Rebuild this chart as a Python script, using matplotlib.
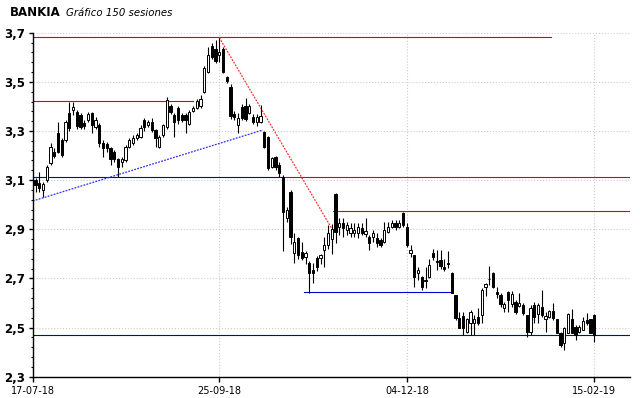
import numpy as np
import matplotlib
matplotlib.use("Agg")
import matplotlib.pyplot as plt
from matplotlib.ticker import AutoMinorLocator

# daily sessions (150)
opens = [3.100, 3.087, 3.060, 3.100, 3.168, 3.216, 3.290, 3.263, 3.263, 3.372,
         3.385, 3.378, 3.365, 3.331, 3.345, 3.372, 3.317, 3.324, 3.250, 3.248,
         3.229, 3.216, 3.186, 3.175, 3.182, 3.236, 3.252, 3.270, 3.277, 3.345,
         3.324, 3.338, 3.304, 3.236, 3.283, 3.317, 3.401, 3.365, 3.392, 3.365,
         3.365, 3.330, 3.383, 3.395, 3.400, 3.460, 3.540, 3.645, 3.635, 3.610,
         3.632, 3.520, 3.480, 3.370, 3.324, 3.399, 3.400, 3.374, 3.358, 3.338,
         3.338, 3.297, 3.277, 3.155, 3.196, 3.160, 3.114, 2.945, 3.053, 2.802,
         2.863, 2.809, 2.788, 2.761, 2.734, 2.782, 2.782, 2.816, 2.836, 2.860,
         3.044, 2.911, 2.924, 2.897, 2.883, 2.883, 2.883, 2.904, 2.881, 2.870,
         2.870, 2.863, 2.856, 2.850, 2.890, 2.911, 2.924, 2.911, 2.965, 2.911,
         2.803, 2.795, 2.721, 2.707, 2.694, 2.707, 2.805, 2.772, 2.775, 2.745,
         2.760, 2.721, 2.632, 2.537, 2.547, 2.483, 2.517, 2.517, 2.541, 2.551,
         2.666, 2.699, 2.723, 2.646, 2.632, 2.578, 2.646, 2.596, 2.605, 2.588,
         2.592, 2.551, 2.483, 2.592, 2.555, 2.585, 2.534, 2.544, 2.568, 2.533,
         2.479, 2.436, 2.476, 2.533, 2.501, 2.483, 2.490, 2.531, 2.533, 2.551]
highs = [3.110, 3.134, 3.093, 3.160, 3.250, 3.230, 3.338, 3.270, 3.345, 3.419,
         3.419, 3.385, 3.372, 3.345, 3.378, 3.378, 3.358, 3.331, 3.263, 3.256,
         3.236, 3.223, 3.190, 3.195, 3.243, 3.270, 3.283, 3.290, 3.324, 3.351,
         3.345, 3.351, 3.310, 3.283, 3.330, 3.439, 3.410, 3.372, 3.400, 3.372,
         3.372, 3.385, 3.400, 3.430, 3.445, 3.565, 3.640, 3.660, 3.670, 3.680,
         3.640, 3.525, 3.490, 3.380, 3.372, 3.410, 3.433, 3.410, 3.370, 3.370,
         3.405, 3.300, 3.280, 3.195, 3.200, 3.175, 3.120, 2.990, 3.060, 2.884,
         2.870, 2.850, 2.810, 2.770, 2.761, 2.790, 2.800, 2.870, 2.917, 2.920,
         3.046, 2.944, 2.944, 2.930, 2.924, 2.924, 2.924, 2.924, 2.944, 2.877,
         2.897, 2.883, 2.863, 2.931, 2.931, 2.938, 2.938, 2.938, 2.972, 2.924,
         2.836, 2.795, 2.748, 2.710, 2.748, 2.780, 2.820, 2.816, 2.816, 2.780,
         2.810, 2.725, 2.632, 2.565, 2.565, 2.537, 2.572, 2.551, 2.578, 2.660,
         2.680, 2.750, 2.725, 2.666, 2.639, 2.605, 2.650, 2.650, 2.612, 2.640,
         2.600, 2.552, 2.590, 2.605, 2.600, 2.653, 2.565, 2.570, 2.599, 2.535,
         2.483, 2.504, 2.558, 2.574, 2.510, 2.510, 2.544, 2.560, 2.535, 2.557]
lows = [3.050, 3.053, 3.030, 3.093, 3.160, 3.190, 3.209, 3.195, 3.256, 3.300,
        3.365, 3.310, 3.310, 3.310, 3.338, 3.290, 3.310, 3.236, 3.195, 3.216,
        3.161, 3.175, 3.114, 3.155, 3.175, 3.229, 3.243, 3.263, 3.270, 3.300,
        3.317, 3.297, 3.236, 3.229, 3.277, 3.310, 3.370, 3.277, 3.330, 3.338,
        3.290, 3.324, 3.378, 3.390, 3.395, 3.455, 3.535, 3.595, 3.575, 3.580,
        3.535, 3.495, 3.350, 3.345, 3.290, 3.345, 3.340, 3.370, 3.330, 3.320,
        3.331, 3.230, 3.141, 3.148, 3.140, 3.114, 2.810, 2.930, 2.840, 2.761,
        2.780, 2.775, 2.760, 2.639, 2.680, 2.730, 2.760, 2.748, 2.820, 2.800,
        2.843, 2.877, 2.870, 2.877, 2.870, 2.870, 2.863, 2.877, 2.870, 2.816,
        2.850, 2.829, 2.829, 2.843, 2.883, 2.904, 2.897, 2.904, 2.910, 2.829,
        2.788, 2.666, 2.693, 2.653, 2.660, 2.700, 2.775, 2.734, 2.740, 2.730,
        2.741, 2.639, 2.531, 2.500, 2.470, 2.476, 2.470, 2.470, 2.510, 2.517,
        2.630, 2.673, 2.660, 2.620, 2.585, 2.565, 2.565, 2.585, 2.557, 2.585,
        2.550, 2.463, 2.470, 2.517, 2.517, 2.544, 2.483, 2.540, 2.530, 2.476,
        2.420, 2.409, 2.476, 2.476, 2.449, 2.479, 2.490, 2.510, 2.476, 2.443]
closes = [3.080, 3.066, 3.083, 3.155, 3.236, 3.200, 3.216, 3.202, 3.338, 3.311,
          3.399, 3.320, 3.317, 3.320, 3.368, 3.324, 3.345, 3.250, 3.229, 3.229,
          3.184, 3.188, 3.155, 3.188, 3.236, 3.263, 3.270, 3.283, 3.311, 3.317,
          3.338, 3.304, 3.270, 3.277, 3.324, 3.426, 3.378, 3.338, 3.345, 3.345,
          3.345, 3.378, 3.392, 3.423, 3.430, 3.555, 3.610, 3.602, 3.585, 3.623,
          3.541, 3.505, 3.360, 3.355, 3.351, 3.351, 3.350, 3.401, 3.338, 3.358,
          3.360, 3.236, 3.148, 3.189, 3.155, 3.128, 2.972, 2.979, 2.870, 2.850,
          2.795, 2.782, 2.803, 2.721, 2.721, 2.748, 2.796, 2.836, 2.883, 2.900,
          2.890, 2.924, 2.904, 2.917, 2.904, 2.897, 2.911, 2.883, 2.894, 2.843,
          2.883, 2.843, 2.836, 2.897, 2.911, 2.924, 2.911, 2.924, 2.917, 2.836,
          2.816, 2.707, 2.734, 2.666, 2.688, 2.754, 2.786, 2.768, 2.750, 2.737,
          2.758, 2.640, 2.537, 2.500, 2.497, 2.533, 2.565, 2.535, 2.517, 2.653,
          2.676, 2.696, 2.666, 2.635, 2.596, 2.595, 2.612, 2.636, 2.565, 2.601,
          2.558, 2.483, 2.578, 2.544, 2.592, 2.551, 2.547, 2.568, 2.540, 2.479,
          2.429, 2.497, 2.555, 2.479, 2.470, 2.501, 2.528, 2.520, 2.476, 2.470]

date_labels = ['17-07-18', '25-09-18', '04-12-18', '15-02-19']
date_pos = [-0.75, 49, 99, 149]
y_ticks = [2.3, 2.5, 2.7, 2.9, 3.1, 3.3, 3.5, 3.7]

# support / resistance levels: (price, start, end, colour)
levels = [(3.681, -0.75, 137.4, '#e00000'),
          (3.421, -0.75, 41.9, '#e00000'),
          (3.112, -0.75, 65.6, '#0000d0'),
          (3.112, 65.6, 158.5, '#e00000'),
          (2.973, 79.4, 158.5, '#e00000'),
          (2.643, 71.6, 111.3, '#0000d0'),
          (2.468, -0.75, 158.5, '#0000d0')]
# trend lines: (x0, y0, x1, y1, colour)
trends = [(49, 3.680, 79.3, 2.895, '#ff3030'),
          (-0.75, 3.015, 60.6, 3.304, '#3030ff')]

fig = plt.figure(figsize=(6.4, 3.98), dpi=100)
ax = fig.add_axes([32.7/640, 21.3/398, 597.3/640, 344/398])

x = np.arange(len(opens))
o = np.array(opens); c = np.array(closes)
ax.vlines(x, lows, highs, color='black', lw=0.8, zorder=3)
up = c >= o
bottom = np.minimum(o, c)
height = np.maximum(np.abs(c - o), 0.003)
ax.bar(x[up], height[up], bottom=bottom[up], width=0.6, facecolor='white',
       edgecolor='black', lw=0.7, zorder=4)
ax.bar(x[~up], height[~up], bottom=bottom[~up], width=0.6, facecolor='black',
       edgecolor='black', lw=0.7, zorder=4)

for price, x0, x1, col in levels:
    ax.plot([x0, x1], [price, price], color=col, lw=0.8, zorder=2)
for x0, y0, x1, y1, col in trends:
    ax.plot([x0, x1], [y0, y1], color=col, lw=0.9, ls=(0, (1.5, 1)), zorder=2)

ax.set_xlim(-0.75, 158.5)
ax.set_ylim(2.3, 3.7)
ax.set_yticks(y_ticks)
ax.set_yticklabels([f'{v:.1f}'.replace('.', ',') for v in y_ticks],
                   fontweight='bold', fontsize=8.5)
ax.yaxis.set_minor_locator(AutoMinorLocator(5))
ax.set_xticks(date_pos)
ax.set_xticklabels(date_labels, fontsize=7)
ax.tick_params(axis='y', which='major', length=3, width=1, pad=2.5)
ax.tick_params(axis='y', which='minor', length=1.8, width=0.8)
ax.tick_params(axis='x', length=3.5, width=1, pad=3.5)

ax.grid(True, which='major', color='#cccccc', ls=':', lw=0.8, zorder=0)
for s in ['top', 'right']:
    ax.spines[s].set_visible(False)
for s in ['left', 'bottom']:
    ax.spines[s].set_linewidth(1)

fig.text(10/640, 1 - 16/398, 'BANKIA', fontweight='bold', fontsize=8.5, va='baseline')
fig.text(66/640, 1 - 16/398, 'Gráfico 150 sesiones', style='italic', fontsize=7.3,
         va='baseline')

fig.savefig('out.png', dpi=100)
